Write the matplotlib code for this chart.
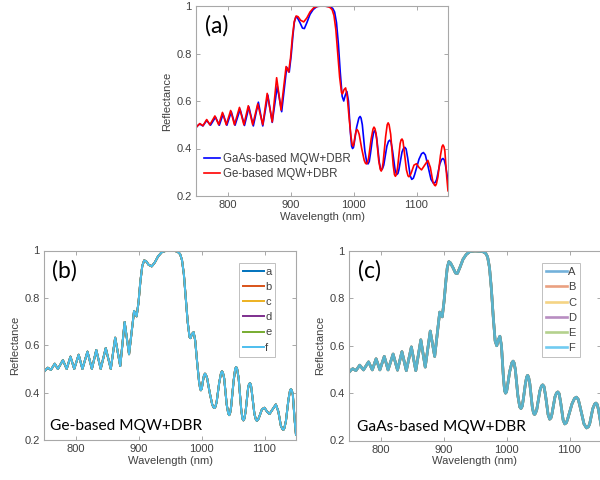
import matplotlib
matplotlib.use("Agg")
import matplotlib.pyplot as plt

# ---------------- data ----------------
ge_wl = [750, 753, 756, 761, 767, 772, 780, 786, 792, 798, 805, 811, 819, 826, 833, 840,
         848, 856, 863, 871, 878, 885, 893, 897, 900, 903, 906, 909, 912, 916, 921, 926,
         931, 937, 945, 955, 962, 966, 969, 972, 975, 978, 981, 982.5, 985, 987.5, 990,
         993, 996, 998, 999, 1000.5, 1002, 1004, 1005.5, 1007, 1009, 1013, 1017, 1019,
         1020.5, 1022, 1024, 1028, 1031, 1032.5, 1034, 1036, 1040, 1042.5, 1044, 1045.5,
         1047, 1051, 1053.5, 1055, 1056.5, 1059, 1063, 1065, 1066.5, 1068, 1070, 1074,
         1075.5, 1077, 1078.5, 1080, 1084, 1086.5, 1088, 1090, 1092, 1096, 1100, 1104,
         1108, 1113, 1118, 1122, 1126, 1128.5, 1130, 1131.5, 1134, 1138, 1140.5, 1142,
         1143.5, 1145, 1148, 1150]
ge_r = [0.488, 0.497, 0.505, 0.496, 0.522, 0.500, 0.537, 0.500, 0.552, 0.500, 0.560, 0.500,
        0.573, 0.500, 0.580, 0.500, 0.588, 0.500, 0.632, 0.512, 0.698, 0.562, 0.745, 0.722,
        0.780, 0.870, 0.935, 0.958, 0.955, 0.940, 0.933, 0.950, 0.975, 0.993, 1.000, 1.000,
        0.995, 0.985, 0.960, 0.900, 0.800, 0.700, 0.635, 0.630, 0.648, 0.655, 0.620,
        0.530, 0.450, 0.415, 0.410, 0.418, 0.445, 0.473, 0.480, 0.475, 0.460, 0.400, 0.350, 0.338,
        0.335, 0.340, 0.360, 0.440, 0.482, 0.490, 0.484, 0.460, 0.350, 0.312, 0.305, 0.315,
        0.340, 0.450, 0.500, 0.508, 0.500, 0.460, 0.330, 0.290, 0.283, 0.290, 0.320, 0.420,
        0.436, 0.440, 0.432, 0.400, 0.310, 0.285, 0.281, 0.287, 0.300, 0.330, 0.336, 0.320,
        0.310, 0.330, 0.350, 0.320, 0.260, 0.246, 0.243, 0.250, 0.280, 0.370, 0.408, 0.415,
        0.408, 0.390, 0.280, 0.222]

gaas_wl = [750, 753, 756, 761, 767, 773, 781, 787, 793, 799, 806, 812, 820, 827, 834, 841,
           849, 856, 864, 871, 879, 886, 894, 898, 901, 904, 906, 908.5, 911, 915, 919, 922,
           926, 931, 936, 942, 950, 962, 967, 970, 973, 976, 979, 982, 984.5, 987, 989.5,
           992, 995, 997, 998.5, 1000, 1001, 1005, 1008.5, 1010.5, 1012, 1014, 1018, 1021,
           1023, 1025, 1027, 1030, 1032, 1033.5, 1035, 1037, 1041, 1043, 1044.5, 1046,
           1048, 1053, 1055.5, 1057.5, 1059.5, 1062, 1066, 1068.5, 1070.5, 1072, 1077,
           1079.5, 1081.5, 1083.5, 1086, 1090, 1092.5, 1095, 1097, 1104, 1108, 1111, 1114,
           1117, 1123, 1127, 1130, 1132, 1137, 1140, 1142, 1144, 1146, 1150]
gaas_r = [0.488, 0.497, 0.503, 0.495, 0.518, 0.498, 0.532, 0.498, 0.545, 0.498, 0.555, 0.498,
          0.565, 0.497, 0.575, 0.495, 0.595, 0.495, 0.625, 0.510, 0.662, 0.555, 0.742, 0.722,
          0.790, 0.880, 0.930, 0.955, 0.950, 0.930, 0.907, 0.905, 0.930, 0.965, 0.985, 0.998,
          1.000, 0.998, 0.990, 0.975, 0.930, 0.840, 0.720, 0.620, 0.600, 0.625, 0.640,
          0.600, 0.470, 0.410, 0.400, 0.405, 0.420, 0.490, 0.528, 0.535, 0.528, 0.500, 0.390, 0.342,
          0.335, 0.345, 0.380, 0.440, 0.468, 0.475, 0.468, 0.440, 0.340, 0.315, 0.310, 0.315,
          0.330, 0.410, 0.430, 0.435, 0.428, 0.390, 0.310, 0.290, 0.295, 0.310, 0.385,
          0.401, 0.405, 0.398, 0.360, 0.285, 0.270, 0.275, 0.290, 0.355, 0.378, 0.383, 0.373,
          0.340, 0.270, 0.253, 0.258, 0.270, 0.335, 0.354, 0.358, 0.352, 0.330, 0.265]

labels_b = ["a", "b", "c", "d", "e", "f"]
labels_c = ["A", "B", "C", "D", "E", "F"]
series_colors = ["#0072BD", "#D95319", "#EDB120", "#7E2F8E", "#77AC30", "#4DBEEE"]
xticks = [800, 900, 1000, 1100]
yticks = [0.2, 0.4, 0.6, 0.8, 1.0]
ytick_labels = ["0.2", "0.4", "0.6", "0.8", "1"]

assert len(ge_wl) == len(ge_r)
assert len(gaas_wl) == len(gaas_r)

# ---------------- styling ----------------
plt.rcParams["font.family"] = ["Liberation Sans", "DejaVu Sans"]
SPINE = "#a8a8a8"
TXT = "#404040"
LABEL_FONT = ["Lato", "DejaVu Sans"]

fig = plt.figure(figsize=(6, 4.8), dpi=100)


def style_axes(ax):
    ax.set_xlim(750, 1150)
    ax.set_ylim(0.2, 1.0)
    ax.set_xticks(xticks)
    ax.set_yticks(yticks)
    ax.set_yticklabels(ytick_labels)
    for s in ax.spines.values():
        s.set_color(SPINE)
        s.set_linewidth(0.8)
    ax.tick_params(direction="in", top=True, right=True, length=3, width=0.7,
                   color=SPINE, labelcolor=TXT, labelsize=8, pad=3)
    ax.set_xlabel("Wavelength (nm)", fontsize=8, color=TXT, labelpad=1)
    ax.set_ylabel("Reflectance", fontsize=8, color=TXT, labelpad=3)


def boxed_legend(ax):
    leg = ax.legend(loc="upper right", bbox_to_anchor=(0.94, 0.965), fontsize=8,
                    handlelength=1.9, handletextpad=0.1, labelspacing=0.47,
                    borderpad=0.35, fancybox=False, labelcolor=TXT)
    leg.get_frame().set_edgecolor("#b0b0b0")
    leg.get_frame().set_linewidth(0.7)
    return leg


# panel (a)
ax_a = fig.add_axes([196 / 600, 1 - 196 / 480, 252 / 600, 190 / 480])
style_axes(ax_a)
ax_a.plot(gaas_wl, gaas_r, color="#0000ff", lw=1.2, label="GaAs-based MQW+DBR")
ax_a.plot(ge_wl, ge_r, color="#ff0000", lw=1.2, label="Ge-based MQW+DBR")
ax_a.legend(loc="lower left", bbox_to_anchor=(0.0, 0.04), frameon=False, fontsize=8.3,
            handlelength=1.4, handletextpad=0.2, labelspacing=0.25, borderaxespad=0.3,
            labelcolor=TXT)
ax_a.text(0.035, 0.95, "(a)", transform=ax_a.transAxes, fontsize=16.5,
          family=LABEL_FONT, va="top", ha="left", color="black")

# panel (b)
ax_b = fig.add_axes([44 / 600, 1 - 440 / 480, 252 / 600, 189.5 / 480])
style_axes(ax_b)
for lab, col in zip(labels_b, series_colors):
    ax_b.plot(ge_wl, ge_r, color=col, lw=1.4, label=lab)
boxed_legend(ax_b)
ax_b.text(0.03, 0.95, "(b)", transform=ax_b.transAxes, fontsize=16.5,
          family=LABEL_FONT, va="top", ha="left", color="black")
ax_b.text(0.025, 0.035, "Ge-based MQW+DBR", transform=ax_b.transAxes, fontsize=11.2,
          family=LABEL_FONT, va="bottom", ha="left", color="black")

# panel (c)
ax_c = fig.add_axes([349 / 600, 1 - 440.5 / 480, 252 / 600, 189.5 / 480])
style_axes(ax_c)
for lab, col in zip(labels_c, series_colors):
    ax_c.plot(gaas_wl, gaas_r, color=col, lw=1.9,
              alpha=0.8 if lab == "F" else 0.55, label=lab)
boxed_legend(ax_c)
ax_c.text(0.035, 0.95, "(c)", transform=ax_c.transAxes, fontsize=16.5,
          family=LABEL_FONT, va="top", ha="left", color="black")
ax_c.text(0.03, 0.035, "GaAs-based MQW+DBR", transform=ax_c.transAxes, fontsize=11.2,
          family=LABEL_FONT, va="bottom", ha="left", color="black")

fig.savefig("out.png", dpi=100)
